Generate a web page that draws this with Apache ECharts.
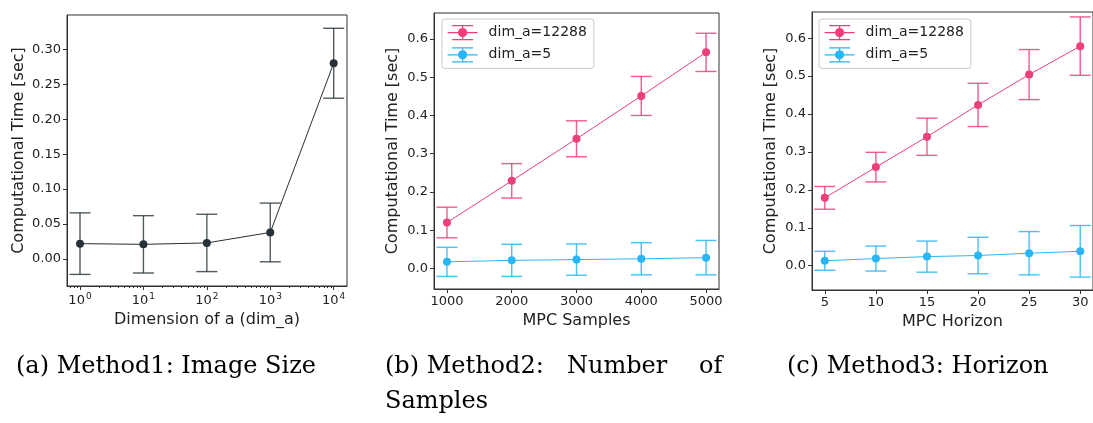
<!DOCTYPE html>
<html>
<head>
<meta charset="utf-8">
<script src="https://cdn.jsdelivr.net/npm/echarts@6/dist/echarts.min.js"></script>
<style>
  html, body { margin: 0; padding: 0; background: #fff; }
  #main { width: 1093px; height: 423px; }
</style>
</head>
<body>
<div id="main"></div>
<script>
// (a) image size, log x axis
var dimA = [1, 10, 100, 1000, 10000];
var timeA = [0.022, 0.021, 0.023, 0.038, 0.280];
var errA = [0.044, 0.041, 0.041, 0.042, 0.050];

// (b) number of samples
var samples = [1000, 2000, 3000, 4000, 5000];
var samplesBig = [0.120, 0.229, 0.339, 0.451, 0.565];
var samplesBigErr = [0.040, 0.045, 0.047, 0.051, 0.050];
var samplesSmall = [0.017, 0.021, 0.023, 0.025, 0.028];
var samplesSmallErr = [0.038, 0.042, 0.041, 0.042, 0.045];

// (c) horizon
var horizon = [5, 10, 15, 20, 25, 30];
var horizonBig = [0.179, 0.260, 0.340, 0.424, 0.504, 0.579];
var horizonBigErr = [0.030, 0.039, 0.049, 0.057, 0.066, 0.077];
var horizonSmall = [0.013, 0.019, 0.024, 0.027, 0.033, 0.038];
var horizonSmallErr = [0.025, 0.033, 0.041, 0.048, 0.057, 0.068];

// tick labels
var yTicksA = [0, 0.05, 0.10, 0.15, 0.20, 0.25, 0.30];
var xTicksA = [1, 10, 100, 1000, 10000];
var yTicksBC = [0, 0.1, 0.2, 0.3, 0.4, 0.5, 0.6];
var xTicksB = [1000, 2000, 3000, 4000, 5000];
var xTicksC = [5, 10, 15, 20, 25, 30];

var seriesNames = ['dim_a=12288', 'dim_a=5'];
var captions = ['(a) Method1: Image Size', '(b) Method2:', 'Number', 'of', 'Samples', '(c) Method3: Horizon'];

var PINK = '#ec407a', BLUE = '#29b6f6', DARK = '#263238';
var FONT = 'DejaVu Sans';
var CAPFONT = '24px "DejaVu Serif"';

var chart = echarts.init(document.getElementById('main'));

function log10(v) { return Math.log(v) / Math.LN10; }

// minor ticks of the log axis (2..9 per decade)
var minorA = [];
for (var n = -1; n <= 4; n++) {
    for (var k = 2; k <= 9; k++) {
        var e = n + log10(k);
        if (e > -0.205 && e < 4.21) minorA.push(e);
    }
}

function errData(xs, ys, es, fx) {
    return xs.map(function (x, i) {
        return [fx ? fx(x) : x, ys[i] - es[i], ys[i] + es[i]];
    });
}
function lineData(xs, ys, fx) {
    return xs.map(function (x, i) { return [fx ? fx(x) : x, ys[i]]; });
}

function errorBar(capHalf, color, opacity) {
    return function (params, api) {
        var x = api.value(0);
        var top = api.coord([x, api.value(2)]);
        var bot = api.coord([x, api.value(1)]);
        var st = { stroke: color, lineWidth: 1.4, opacity: opacity };
        return {
            type: 'group',
            children: [
                { type: 'line', shape: { x1: top[0], y1: top[1], x2: bot[0], y2: bot[1] }, style: st },
                { type: 'line', shape: { x1: top[0] - capHalf, y1: top[1], x2: top[0] + capHalf, y2: top[1] }, style: st },
                { type: 'line', shape: { x1: bot[0] - capHalf, y1: bot[1], x2: bot[0] + capHalf, y2: bot[1] }, style: st }
            ]
        };
    };
}

function axisBase(extra) {
    var o = {
        type: 'value',
        axisLine: { show: true, onZero: false, lineStyle: { color: '#333', width: 1 } },
        axisTick: { show: true, inside: false, length: 4, lineStyle: { color: '#333' } },
        axisLabel: { color: '#222', fontSize: 13, fontFamily: FONT, margin: 6 },
        splitLine: { show: false },
        nameTextStyle: { color: '#222', fontSize: 16, fontFamily: FONT },
        nameLocation: 'middle'
    };
    for (var key in extra) {
        if (typeof extra[key] === 'object' && o[key] && !Array.isArray(extra[key])) {
            for (var k2 in extra[key]) o[key][k2] = extra[key][k2];
        } else {
            o[key] = extra[key];
        }
    }
    return o;
}

var legendIcon = 'path://M0,7L30,7M15,0L15,14M4.5,0L25.5,0M4.5,14L25.5,14M19,7A4,4,0,1,1,11,7A4,4,0,1,1,19,7Z';

function legendAt(left, top) {
    return {
        left: left, top: top,
        orient: 'vertical',
        selectedMode: false,
        padding: [6, 7, 6, 5],
        itemGap: 7,
        itemWidth: 30,
        itemHeight: 14,
        borderColor: '#ccc',
        borderWidth: 1,
        borderRadius: 3,
        backgroundColor: 'rgba(255,255,255,0.8)',
        textStyle: { fontSize: 14, fontFamily: FONT, color: '#222', padding: [0, 0, 0, 6] },
        data: [
            { name: seriesNames[0], icon: legendIcon, itemStyle: { color: PINK, borderColor: PINK, borderWidth: 1.2 } },
            { name: seriesNames[1], icon: legendIcon, itemStyle: { color: BLUE, borderColor: BLUE, borderWidth: 1.2 } }
        ]
    };
}

function lineSeries(name, data, color, xi, yi) {
    return {
        type: 'line', name: name, data: data,
        xAxisIndex: xi, yAxisIndex: yi,
        symbol: 'circle', symbolSize: 8, showSymbol: true,
        itemStyle: { color: color },
        lineStyle: { color: color, width: 1 },
        emphasis: { disabled: true },
        z: 3
    };
}
function barSeries(name, data, color, xi, yi, opacity) {
    return {
        type: 'custom', name: name, data: data,
        xAxisIndex: xi, yAxisIndex: yi,
        renderItem: errorBar(10.5, color, opacity),
        z: 2
    };
}

function plain(v) { return String(v); }

var option = {
    animation: false,
    backgroundColor: '#fff',
    grid: [
        { left: 67, top: 15, width: 280, height: 271, show: true, borderColor: '#333', borderWidth: 1 },
        { left: 434, top: 13, width: 285, height: 276, show: true, borderColor: '#333', borderWidth: 1 },
        { left: 812, top: 12, width: 286, height: 278, show: true, borderColor: '#333', borderWidth: 1 }
    ],
    legend: [legendAt(442, 19), legendAt(819, 19)],
    xAxis: [
        axisBase({
            gridIndex: 0, position: 'bottom', min: -0.205, max: 4.21,
            name: 'Dimension of a (dim_a)', nameGap: 24,
            axisTick: { customValues: xTicksA.map(log10) },
            axisLabel: {
                customValues: xTicksA.map(log10),
                formatter: function (v) { return '{b|10}{s|' + Math.round(v) + '}'; },
                rich: {
                    b: { fontSize: 13, fontFamily: FONT, color: '#222', verticalAlign: 'bottom' },
                    s: { fontSize: 9, fontFamily: FONT, color: '#222', verticalAlign: 'top', padding: [0, 0, 6, 1] }
                }
            }
        }),
        axisBase({
            gridIndex: 0, position: 'bottom', min: -0.205, max: 4.21,
            axisLine: { show: false },
            axisTick: { length: 2, customValues: minorA },
            axisLabel: { show: false }
        }),
        axisBase({
            gridIndex: 1, position: 'bottom', min: 800, max: 5200,
            name: 'MPC Samples', nameGap: 23,
            axisTick: { customValues: xTicksB },
            axisLabel: { customValues: xTicksB, formatter: plain }
        }),
        axisBase({
            gridIndex: 2, position: 'bottom', min: 3.75, max: 31.25,
            name: 'MPC Horizon', nameGap: 24,
            axisTick: { customValues: xTicksC },
            axisLabel: { customValues: xTicksC, formatter: plain }
        })
    ],
    yAxis: [
        axisBase({
            gridIndex: 0, position: 'left', min: -0.0386, max: 0.349,
            name: 'Computational Time [sec]', nameGap: 40,
            axisTick: { customValues: yTicksA },
            axisLabel: { customValues: yTicksA, formatter: function (v) { return v.toFixed(2); } }
        }),
        axisBase({
            gridIndex: 1, position: 'left', min: -0.054, max: 0.668,
            name: 'Computational Time [sec]', nameGap: 33,
            axisTick: { customValues: yTicksBC },
            axisLabel: { customValues: yTicksBC, formatter: function (v) { return v.toFixed(1); } }
        }),
        axisBase({
            gridIndex: 2, position: 'left', min: -0.064, max: 0.669,
            name: 'Computational Time [sec]', nameGap: 33,
            axisTick: { customValues: yTicksBC },
            axisLabel: { customValues: yTicksBC, formatter: function (v) { return v.toFixed(1); } }
        })
    ],
    series: [
        barSeries('a_err', errData(dimA, timeA, errA, log10), DARK, 0, 0, 0.8),
        lineSeries('a', lineData(dimA, timeA, log10), DARK, 0, 0),

        barSeries(seriesNames[0], errData(samples, samplesBig, samplesBigErr), PINK, 2, 1, 0.85),
        lineSeries(seriesNames[0], lineData(samples, samplesBig), PINK, 2, 1),
        barSeries(seriesNames[1], errData(samples, samplesSmall, samplesSmallErr), BLUE, 2, 1, 0.85),
        lineSeries(seriesNames[1], lineData(samples, samplesSmall), BLUE, 2, 1),

        barSeries(seriesNames[0], errData(horizon, horizonBig, horizonBigErr), PINK, 3, 2, 0.85),
        lineSeries(seriesNames[0], lineData(horizon, horizonBig), PINK, 3, 2),
        barSeries(seriesNames[1], errData(horizon, horizonSmall, horizonSmallErr), BLUE, 3, 2, 0.85),
        lineSeries(seriesNames[1], lineData(horizon, horizonSmall), BLUE, 3, 2)
    ],
    graphic: [
        { type: 'text', left: 16, top: 355, style: { text: captions[0], font: CAPFONT, fill: '#000' } },
        { type: 'text', left: 385, top: 355, style: { text: captions[1], font: CAPFONT, fill: '#000' } },
        { type: 'text', left: 567, top: 355, style: { text: captions[2], font: CAPFONT, fill: '#000' } },
        { type: 'text', left: 699, top: 355, style: { text: captions[3], font: CAPFONT, fill: '#000' } },
        { type: 'text', left: 385, top: 390, style: { text: captions[4], font: CAPFONT, fill: '#000' } },
        { type: 'text', left: 787, top: 355, style: { text: captions[5], font: CAPFONT, fill: '#000' } }
    ]
};

chart.setOption(option);
</script>
</body>
</html>
